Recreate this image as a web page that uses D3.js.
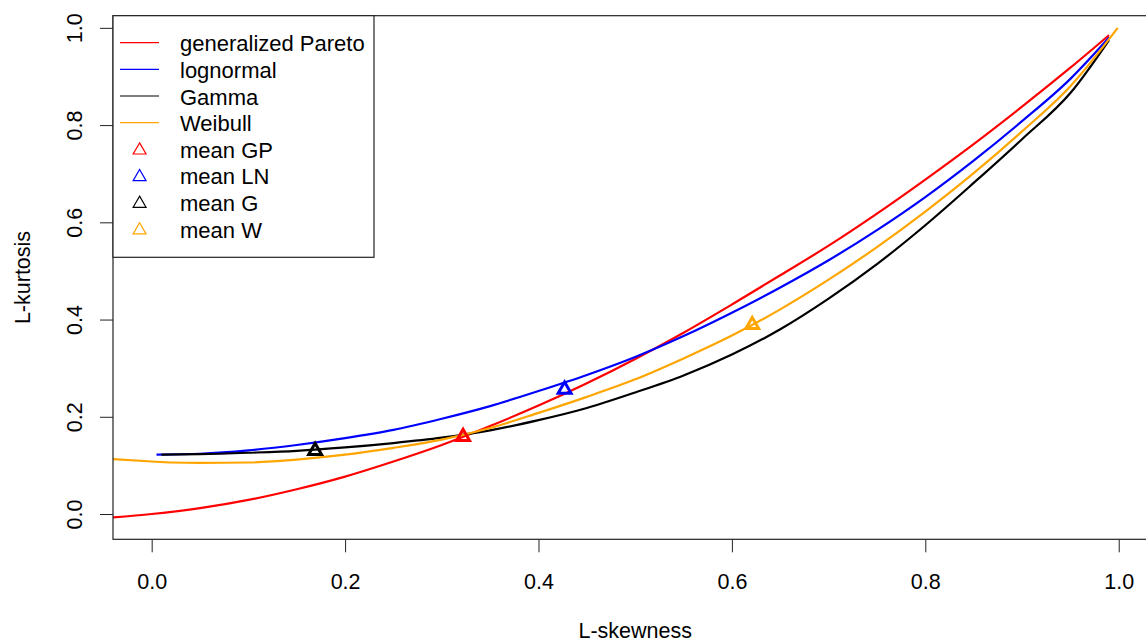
<!DOCTYPE html>
<html>
<head>
<meta charset="utf-8">
<script src="https://cdn.jsdelivr.net/npm/d3@7"></script>
<style>
  html, body { margin: 0; padding: 0; background: #fff; }
  svg { display: block; }
  text { font-family: "Liberation Sans", Arial, sans-serif; fill: #000; }
</style>
</head>
<body>
<svg id="chart" width="1146" height="641"></svg>
<script>
// L-moment ratio curves: [L-skewness, L-kurtosis]
const gparetoCurve = [
  [-0.04, -0.007], [0.00, 0.000], [0.05, 0.012], [0.10, 0.029], [0.15, 0.051],
  [0.20, 0.077], [0.25, 0.108], [0.30, 0.142], [0.35, 0.181], [0.40, 0.223],
  [0.45, 0.269], [0.50, 0.319], [0.55, 0.373], [0.60, 0.431], [0.65, 0.491],
  [0.70, 0.552], [0.75, 0.618], [0.80, 0.688], [0.85, 0.761], [0.90, 0.838],
  [0.95, 0.918], [0.99, 0.985]
];
const lognormalCurve = [
  [0.005, 0.122], [0.05, 0.124], [0.10, 0.131], [0.15, 0.142], [0.20, 0.156],
  [0.25, 0.173], [0.30, 0.196], [0.35, 0.222], [0.40, 0.253], [0.45, 0.286],
  [0.50, 0.323], [0.55, 0.366], [0.60, 0.414], [0.65, 0.466], [0.70, 0.522],
  [0.75, 0.584], [0.80, 0.652], [0.85, 0.727], [0.90, 0.808], [0.95, 0.895],
  [0.99, 0.980]
];
const gammaCurve = [
  [0.01, 0.122], [0.05, 0.123], [0.10, 0.126], [0.15, 0.130], [0.20, 0.137],
  [0.25, 0.146], [0.30, 0.157], [0.35, 0.172], [0.40, 0.193], [0.45, 0.218],
  [0.50, 0.250], [0.55, 0.285], [0.60, 0.328], [0.65, 0.380], [0.70, 0.443],
  [0.75, 0.514], [0.80, 0.594], [0.85, 0.681], [0.90, 0.771], [0.95, 0.866],
  [0.99, 0.975]
];
const weibullCurve = [
  [-0.04, 0.113], [0.00, 0.108], [0.02, 0.106], [0.05, 0.105], [0.10, 0.106],
  [0.15, 0.112], [0.20, 0.122], [0.25, 0.136], [0.30, 0.153], [0.35, 0.177],
  [0.40, 0.208], [0.45, 0.241], [0.50, 0.277], [0.55, 0.320], [0.60, 0.367],
  [0.65, 0.421], [0.70, 0.482], [0.75, 0.549], [0.80, 0.622], [0.85, 0.701],
  [0.90, 0.787], [0.95, 0.880], [0.999, 1.000]
];

// Mean L-moment ratios for each distribution
const meanLabels = ["mean GP", "mean LN", "mean G", "mean W"];
const meanSkew = [0.322, 0.427, 0.169, 0.621];
const meanKurt = [0.159, 0.256, 0.130, 0.389];

const curveLabels = ["generalized Pareto", "lognormal", "Gamma", "Weibull"];
const curves = [gparetoCurve, lognormalCurve, gammaCurve, weibullCurve];
const seriesColors = ["#ff0000", "#0000ff", "#000000", "#ffa500"];

const xTicks = [0, 0.2, 0.4, 0.6, 0.8, 1.0];
const yTicks = [0, 0.2, 0.4, 0.6, 0.8, 1.0];

const svg = d3.select("#chart");
svg.append("rect").attr("width", 1146).attr("height", 641).attr("fill", "#fff");

const plot = { left: 113, right: 1157.4, top: 15.7, bottom: 539.3 };
const x = d3.scaleLinear().domain([-0.04, 1.04]).range([plot.left, plot.right]);
const y = d3.scaleLinear().domain([-0.052, 1.025]).range([plot.bottom, plot.top]);

svg.append("clipPath").attr("id", "plotClip")
  .append("rect")
  .attr("x", plot.left).attr("y", plot.top)
  .attr("width", plot.right - plot.left).attr("height", plot.bottom - plot.top);

// Curves
const line = d3.line().curve(d3.curveMonotoneX).x(d => x(d[0])).y(d => y(d[1]));
const curveG = svg.append("g").attr("clip-path", "url(#plotClip)");
curves.forEach((c, i) => {
  curveG.append("path")
    .datum(c)
    .attr("d", line)
    .attr("fill", "none")
    .attr("stroke", seriesColors[i])
    .attr("stroke-width", 2.2)
    .attr("stroke-linejoin", "round");
});

// Mean markers
const tri = d3.symbol().type(d3.symbolTriangle).size(72);
meanSkew.forEach((s, i) => {
  curveG.append("path")
    .attr("d", tri)
    .attr("transform", `translate(${x(s)},${y(meanKurt[i])})`)
    .attr("fill", "none")
    .attr("stroke", seriesColors[i])
    .attr("stroke-width", 3);
});

// Axes
const fontSize = 21.5;
const xAxis = svg.append("g")
  .attr("transform", `translate(0,${plot.bottom})`)
  .call(d3.axisBottom(x).tickValues(xTicks).tickSize(13).tickPadding(21)
    .tickFormat(d3.format(".1f")));
xAxis.select(".domain").remove();
xAxis.selectAll(".tick line").attr("stroke", "#222");
xAxis.selectAll(".tick text").attr("font-size", fontSize).attr("fill", "#000")
  .style("font-family", '"Liberation Sans", Arial, sans-serif');

const yAxis = svg.append("g")
  .attr("transform", `translate(${plot.left},0)`)
  .call(d3.axisLeft(y).tickValues(yTicks).tickSize(13)
    .tickFormat(d3.format(".1f")));
yAxis.select(".domain").remove();
yAxis.selectAll(".tick line").attr("stroke", "#222");
yAxis.selectAll(".tick text")
  .attr("x", null).attr("dy", null)
  .attr("text-anchor", "middle")
  .attr("transform", "translate(-31,0) rotate(-90)")
  .attr("font-size", fontSize).attr("fill", "#000")
  .style("font-family", '"Liberation Sans", Arial, sans-serif');

// Plot frame
svg.append("rect")
  .attr("x", plot.left).attr("y", plot.top)
  .attr("width", plot.right - plot.left).attr("height", plot.bottom - plot.top)
  .attr("fill", "none").attr("stroke", "#222").attr("stroke-width", 1.2);

// Axis titles
svg.append("text")
  .attr("x", (plot.left + plot.right) / 2).attr("y", 638)
  .attr("text-anchor", "middle").attr("font-size", fontSize)
  .text("L-skewness");
svg.append("text")
  .attr("transform", `translate(30,${(plot.top + plot.bottom) / 2}) rotate(-90)`)
  .attr("text-anchor", "middle").attr("font-size", fontSize)
  .text("L-kurtosis");

// Legend
const legendFont = 22;
const legend = svg.append("g");
legend.append("rect")
  .attr("x", plot.left).attr("y", plot.top)
  .attr("width", 261).attr("height", 241.6)
  .attr("fill", "#fff").attr("stroke", "#222").attr("stroke-width", 1.2);
const rowY = i => 42.7 + 26.65 * i;
const legendTri = d3.symbol().type(d3.symbolTriangle).size(72);
curveLabels.forEach((lab, i) => {
  legend.append("line")
    .attr("x1", 120).attr("x2", 159)
    .attr("y1", rowY(i)).attr("y2", rowY(i))
    .attr("stroke", seriesColors[i]).attr("stroke-width", 1.2);
  legend.append("text")
    .attr("x", 180).attr("y", rowY(i) + 8.5)
    .attr("font-size", legendFont).text(lab);
});
meanLabels.forEach((lab, i) => {
  const r = i + curveLabels.length;
  legend.append("path")
    .attr("d", legendTri)
    .attr("transform", `translate(139.6,${rowY(r) + 1})`)
    .attr("fill", "none").attr("stroke", seriesColors[i]).attr("stroke-width", 1.2);
  legend.append("text")
    .attr("x", 180).attr("y", rowY(r) + 8.5)
    .attr("font-size", legendFont).text(lab);
});
</script>
</body>
</html>
